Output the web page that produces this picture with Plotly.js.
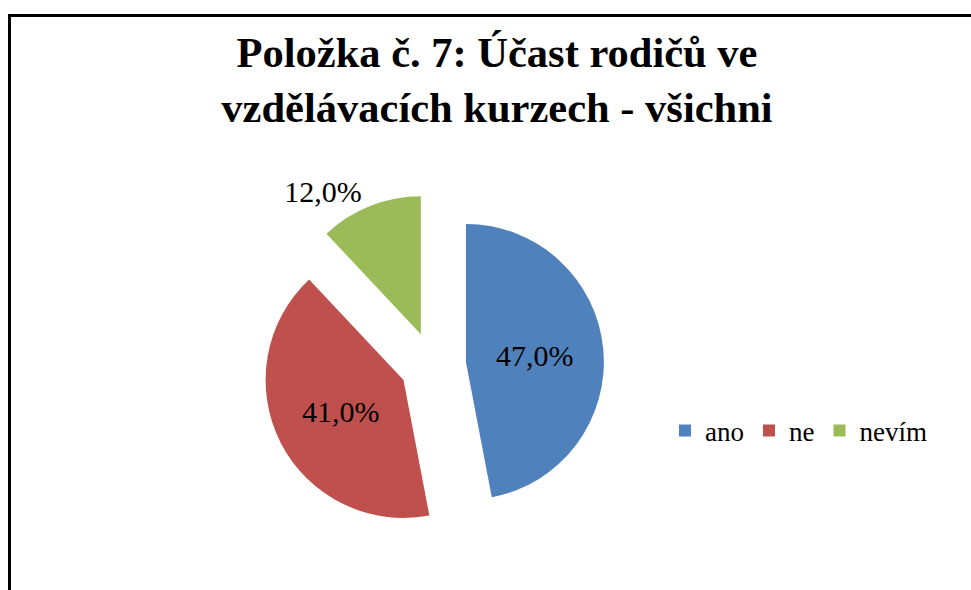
<!DOCTYPE html>
<html>
<head>
<meta charset="utf-8">
<script src="https://cdn.plot.ly/plotly-3.0.1.min.js"></script>
<style>html,body{margin:0;padding:0;background:#fff;}#chart{width:971px;height:590px;}</style>
</head>
<body>
<div id="chart"></div>
<script>
const categories = ["ano", "ne", "nevím"];
const values = [47, 41, 12];
const colors = ["#4F81BD", "#C0504D", "#9BBB59"];
const textPositions = ["inside", "inside", "outside"];
const titleText = "Položka č. 7: Účast rodičů ve<br>vzdělávacích kurzech - všichni";

const W = 971, H = 590;
const serif = "Liberation Serif";

const trace = {
  type: "pie",
  labels: categories,
  values: values,
  sort: false,
  direction: "clockwise",
  rotation: 0,
  pull: [0.24, 0.24, 0.24],
  marker: {colors: colors, line: {width: 0}},
  texttemplate: "%{percent:.1%}",
  textposition: textPositions,
  insidetextorientation: "horizontal",
  textfont: {family: serif, size: 30, color: "#000"},
  insidetextfont: {family: serif, size: 30, color: "#000"},
  outsidetextfont: {family: serif, size: 30, color: "#000"},
  automargin: false,
  hoverinfo: "label+percent",
  domain: {x: [262 / W, 604 / W], y: [1 - 536 / H, 1 - 194 / H]}
};

const layout = {
  width: W, height: H,
  margin: {l: 0, r: 0, t: 0, b: 0},
  paper_bgcolor: "#fff",
  separators: ", ",
  font: {family: serif, color: "#000"},
  title: {
    text: "<b>" + titleText + "</b>",
    font: {family: serif, size: 42.5, color: "#000"},
    x: 497 / W, xanchor: "center",
    y: 1 - 67 / H, yanchor: "top",
    xref: "container", yref: "container"
  },
  showlegend: true,
  legend: {
    orientation: "h",
    x: 665 / W, xanchor: "left",
    y: 1 - 431 / H, yanchor: "middle",
    font: {family: serif, size: 27, color: "#000"},
    itemwidth: 30,
    bgcolor: "rgba(0,0,0,0)"
  },
  shapes: [
    {type: "line", xref: "paper", yref: "paper", x0: 9.5 / W, x1: 9.5 / W, y0: 0, y1: 1 - 15.5 / H, line: {color: "#000", width: 3}},
    {type: "line", xref: "paper", yref: "paper", x0: 8 / W, x1: 1, y0: 1 - 15.5 / H, y1: 1 - 15.5 / H, line: {color: "#000", width: 3}}
  ]
};

Plotly.newPlot("chart", [trace], layout, {displayModeBar: false, staticPlot: true});
</script>
</body>
</html>
